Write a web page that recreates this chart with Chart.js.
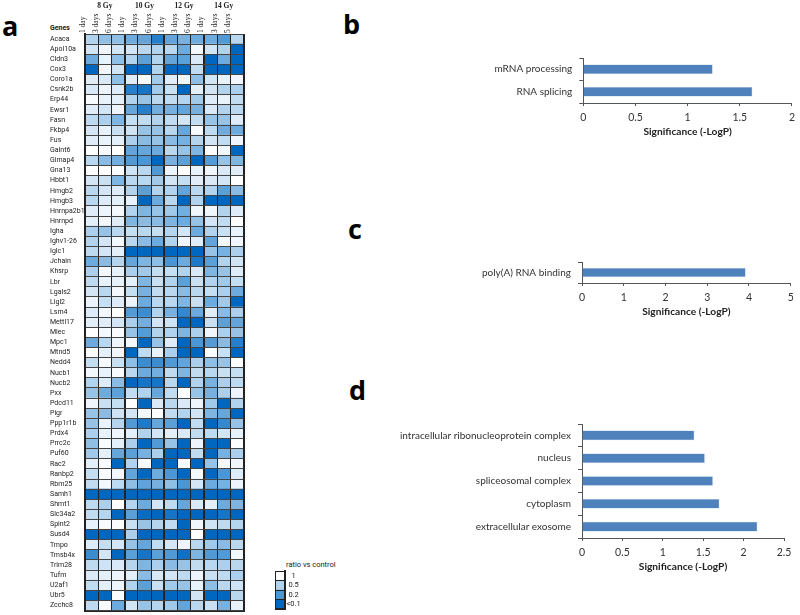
<!DOCTYPE html>
<html>
<head>
<meta charset="utf-8">
<title>Heatmap and GO terms</title>
<script src="https://cdn.jsdelivr.net/npm/chart.js@4"></script>
<style>
  html, body { margin: 0; padding: 0; background: #fff; }
  body { width: 800px; height: 615px; position: relative; overflow: hidden; font-family: Lato, sans-serif; color: #222; }
  canvas { position: absolute; }
  .panel { position: absolute; font: bold 27px "Open Sans", sans-serif; color: #000; line-height: 30px; }
  .note { position: absolute; line-height: 10px; white-space: nowrap; }
</style>
</head>
<body>
<div class="panel" style="left:2px;top:11px">a</div>
<div class="panel" style="left:343px;top:9px">b</div>
<div class="panel" style="left:348px;top:214px">c</div>
<div class="panel" style="left:349px;top:375px">d</div>
<div class="note" style="left:50px;top:23px;font:bold 7px/10px Roboto,sans-serif">Genes</div>
<div class="note" style="left:286px;top:560px;font:7.5px/10px Roboto,sans-serif">ratio vs control</div>

<canvas id="heatChart" width="260" height="615" style="left:0;top:0"></canvas>
<canvas id="legendChart" width="70" height="50" style="left:270px;top:565px"></canvas>
<canvas id="chartB" width="460" height="94" style="left:340px;top:45px"></canvas>
<canvas id="chartC" width="460" height="70" style="left:340px;top:249px"></canvas>
<canvas id="chartD" width="460" height="163" style="left:340px;top:411px"></canvas>

<script>
// HEATMAP DATA
const genes = ["Acaca","Apol10a","Cldn3","Cox3","Coro1a","Csnk2b","Erp44","Ewsr1","Fasn","Fkbp4","Fus","Galnt6","Gimap4","Gna13","Hbbt1","Hmgb2","Hmgb3","Hnrnpa2b1","Hnrnpd","Igha","Ighv1-26","Iglc1","Jchain","Khsrp","Lbr","Lgals2","Llgl2","Lsm4","Mettl17","Mlec","Mpc1","Mtnd5","Nedd4","Nucb1","Nucb2","Pxx","Pdcd11","Pigr","Ppp1r1b","Prdx4","Prrc2c","Puf60","Rac2","Ranbp2","Rbm25","Samh1","Shmt1","Slc34a2","Spint2","Susd4","Tmpo","Tmsb4x","Trim28","Tufm","U2af1","Ubr5","Zcchc8"];
const dayLabels = ["1 day","3 days","6 days","1 day","3 days","6 days","1 day","3 days","6 days","1 day","3 days","5 days"];
const doseLabels = ["8 Gy","10 Gy","12 Gy","14 Gy"];

// ratio vs control, one row per gene, 12 columns
const ratios = [
  [.5,.4,.4,.3,.27,.15,.27,.33,.3,.3,.22,.55],
  [.7,.9,.7,.7,.55,.5,.55,.3,.92,.7,.5,.1],
  [.3,.85,.4,.5,.25,.5,.27,.25,.75,.1,.3,.1],
  [.1,.9,.7,.1,.1,.5,.1,.1,.6,.1,.1,.1],
  [.8,.75,.4,.8,.95,.45,.8,.9,.4,.7,.85,.9],
  [.75,.88,.78,.15,.13,.45,.65,.1,.82,.7,.5,.48],
  [.95,.85,.82,.5,.42,.55,.6,.52,.45,.78,.85,.6],
  [.8,.7,.88,.28,.15,.32,.33,.27,.33,.75,.5,.55],
  [.58,.48,.35,.62,.6,.5,.6,.7,.6,.42,.42,.78],
  [.72,.85,.65,.68,.42,.42,.55,.28,.95,.58,.3,.3],
  [.8,.85,.82,.48,.38,.42,.38,.33,.52,.7,.6,.9],
  [1,.95,1,.27,.28,.3,.55,.42,.35,.97,.92,.1],
  [.55,.38,.32,.22,.2,.1,.33,.25,.1,.23,.42,.35],
  [1,1,.97,.68,.55,.22,.88,1,.85,.9,.75,.8],
  [.72,.65,.35,.55,.55,.45,.7,.62,.8,.75,.72,1],
  [.55,.72,.78,.5,.25,.5,.5,.27,.55,.5,.25,.38],
  [.55,.78,.82,.85,.1,.3,.55,.1,.5,.1,.1,.1],
  [.8,.88,.92,.5,.35,.42,.45,.32,.9,.9,.5,.78],
  [.82,.92,.8,.35,.38,.38,.35,.3,.42,.72,.6,1],
  [.48,.42,.55,.62,.55,.62,.52,.72,.3,.5,.65,.85],
  [.5,.72,.92,.55,.38,.3,.5,.9,.8,.27,.92,.9],
  [.58,.72,.82,.1,.1,.1,.1,.1,.1,.42,.33,.48],
  [.3,.38,.52,.28,.35,.4,.2,.3,.14,.25,.5,.7],
  [.48,.92,.85,.48,.45,.62,.62,.5,.75,.35,.42,.78],
  [.58,.85,.85,.82,.35,.65,.5,.25,.65,.5,.45,.62],
  [.72,.55,.92,.62,.33,.6,.55,.38,.55,.62,.48,.3],
  [.88,.62,.78,.88,.3,.55,.55,.35,.65,.3,.45,.1],
  [.78,.92,1,.22,.18,.5,.33,.17,.3,.8,.38,.48],
  [.82,.8,.72,.48,.32,.72,.68,.1,.1,.65,.25,.27],
  [1,.92,.96,.42,.23,.5,.5,.35,.48,.9,.48,.42],
  [.3,.55,.88,.92,.1,.42,.8,.1,.2,.23,.38,.15],
  [.97,.82,.9,.1,.6,.85,.48,.1,.1,.97,.65,.1],
  [.62,.95,.65,.4,.18,.18,.22,.27,.48,.4,.42,.98],
  [.92,.85,.95,.55,.3,.32,.58,.35,.6,.55,.65,.62],
  [.5,.78,.38,.1,.13,.13,.55,.1,.5,.33,.48,.58],
  [.42,.3,.25,.6,.5,.28,.6,1,.42,.33,.48,.88],
  [.9,.65,.62,1,.1,.75,.55,.75,.88,.45,.1,.5],
  [.42,.38,.68,.72,.92,1,.6,.5,.7,.35,.28,.1],
  [.42,.85,.52,.22,.14,.28,.25,.1,.6,.1,.17,.42],
  [.48,.85,.9,.82,.5,.72,.82,.75,.6,.58,.72,.85],
  [.4,.95,.82,.48,.1,.22,.42,.1,.88,.1,.1,.98],
  [.45,.82,.28,.25,.33,.48,.1,.1,.6,.1,.33,.48],
  [.82,.96,.1,.5,.96,.1,.1,.96,.1,.42,.92,.9],
  [.62,.96,.9,.27,.1,.3,.2,.1,.92,.1,.2,.78],
  [.6,.92,.58,.4,.26,.33,.4,.2,.72,.3,.33,.88],
  [.1,.1,.1,.1,.1,.1,.1,.1,.1,.1,.1,.1],
  [.58,.48,1,.52,.3,.72,.58,.28,.75,.82,.3,.35],
  [.6,.52,.1,.25,.11,.1,.13,.1,.1,.1,.13,.1],
  [.85,.95,.97,.65,.42,.52,.6,.1,.9,.68,.58,.52],
  [.1,.1,.1,.48,.1,.1,.1,.1,1,.1,.1,.1],
  [.78,.62,.72,.42,.28,.6,.72,.88,.55,.45,.38,.55],
  [.18,.72,.1,.25,.13,.25,.22,.12,.35,.22,.22,.92],
  [.58,.68,.75,.52,.35,.48,.38,.42,.6,.55,.48,.55],
  [.75,.82,.88,.82,.38,.75,.72,.58,.88,.65,.58,.48],
  [.6,.82,.88,.5,.25,.65,.45,.42,.85,.4,.55,.68],
  [.1,.1,.97,.1,.1,.1,.1,.1,.7,.1,.1,.55],
  [.58,.96,.3,.7,.42,.52,.45,.27,.55,.65,.33,.85]
];

const legendLabels = ["1","0.5","0.2","<0.1"];
const legendRatios = [1,.5,.2,.1];

// BAR PANELS DATA
const termsB = ["mRNA processing","RNA splicing"];
const valuesB = [1.24,1.62];
const termsC = ["poly(A) RNA binding"];
const valuesC = [3.92];
const termsD = ["intracellular ribonucleoprotein complex","nucleus","spliceosomal complex","cytoplasm","extracellular exosome"];
const valuesD = [1.39,1.52,1.62,1.70,2.17];

Chart.defaults.animation = false;
Chart.defaults.responsive = false;
Chart.defaults.devicePixelRatio = 1;
Chart.defaults.plugins.legend.display = false;
Chart.defaults.plugins.tooltip.enabled = false;

// colour stops taken from the legend: ratio -> rgb
const stops = [[1,[255,255,255]],[.5,[178,211,238]],[.2,[75,150,212]],[.1,[0,103,192]]];
function shade(r) {
  for (let i = 1; i < stops.length; i++) {
    if (r >= stops[i][0]) {
      const t = (stops[i-1][0] - r) / (stops[i-1][0] - stops[i][0]);
      const c = stops[i-1][1].map((v, k) => Math.round(v + (stops[i][1][k] - v) * t));
      return `rgb(${c[0]},${c[1]},${c[2]})`;
    }
  }
  return "rgb(0,103,192)";
}

// HEATMAP: 12 stacked datasets of unit length, coloured by ratio
new Chart(document.getElementById("heatChart"), {
  type: "bar",
  data: {
    labels: genes,
    datasets: dayLabels.map((d, col) => ({
      data: genes.map(() => 1),
      backgroundColor: ctx => shade(ratios[ctx.dataIndex][col]),
      barPercentage: 1,
      categoryPercentage: 1
    }))
  },
  options: {
    indexAxis: "y",
    layout: { padding: { left: 50, right: 16.5, top: 0, bottom: 4.5 } },
    scales: {
      x: {
        stacked: true, min: 0, max: 12,
        ticks: { display: false, stepSize: 1 },
        grid: {
          z: 1, drawTicks: false,
          color: "#222",
          lineWidth: ctx => ctx.tick && ctx.tick.value % 3 === 0 ? 2 : 1
        },
        border: { z: 1, color: "#222", width: 2 }
      },
      y: {
        stacked: true,
        afterFit: s => { s.width = 35; },
        ticks: { autoSkip: false, crossAlign: "far", padding: 0, color: "#222", font: { family: "Roboto", size: 7 } },
        grid: { z: 1, offset: true, drawTicks: false, color: "#444", lineWidth: 1 },
        border: { z: 1, color: "#222", width: 2 }
      },
      xDays: {
        type: "category", labels: dayLabels, position: "top", offset: true, weight: 0,
        afterFit: s => { s.height = 21; },
        grid: { display: false, drawTicks: false },
        border: { display: false },
        ticks: { autoSkip: false, minRotation: 90, maxRotation: 90, padding: 1, color: "#222", font: { family: "'Liberation Serif'", size: 7.5 } }
      },
      xDose: {
        type: "category", labels: doseLabels, position: "top", offset: true, weight: 1,
        afterFit: s => { s.height = 13; },
        grid: { display: false, drawTicks: false },
        border: { display: false },
        ticks: { autoSkip: false, maxRotation: 0, padding: 2, color: "#222", font: { family: "'Liberation Serif'", size: 7.5, weight: "bold" } }
      }
    }
  }
});

// HEATMAP LEGEND
new Chart(document.getElementById("legendChart"), {
  type: "bar",
  data: {
    labels: legendLabels,
    datasets: [{
      data: legendLabels.map(() => 1),
      backgroundColor: legendRatios.map(shade),
      barPercentage: 1,
      categoryPercentage: 1
    }]
  },
  options: {
    indexAxis: "y",
    layout: { padding: { left: 5.7, right: 0, top: 4, bottom: 4.3 } },
    scales: {
      x: {
        min: 0, max: 1,
        ticks: { display: false, stepSize: 1 },
        grid: { z: 1, drawTicks: false, color: "#222" },
        border: { z: 1, color: "#222", width: 2 }
      },
      y: {
        position: "right",
        afterFit: s => { s.width = 55; },
        ticks: { autoSkip: false, crossAlign: "center", padding: 1.5, color: "#222", font: { family: "Roboto", size: 7.5 } },
        grid: { z: 1, offset: true, drawTicks: false, color: "#222" },
        border: { z: 1, color: "#222", width: 2 }
      }
    }
  }
});

// BAR PANELS
function barPanel(id, terms, values, maxX, stepX, pad) {
  return new Chart(document.getElementById(id), {
    type: "bar",
    data: {
      labels: terms,
      datasets: [{
        data: values,
        backgroundColor: "#4f81bd",
        borderColor: "#9dbbdd",
        borderWidth: 0.5,
        barPercentage: 0.42,
        categoryPercentage: 1
      }]
    },
    options: {
      indexAxis: "y",
      layout: { padding: pad },
      scales: {
        x: {
          min: 0, max: maxX,
          afterFit: s => { s.height = 35; },
          ticks: { stepSize: stepX, maxRotation: 0, padding: 5, color: "#333", font: { family: "Lato", size: 10.5 }, callback: v => String(v) },
          grid: { drawOnChartArea: false, tickLength: 3, tickColor: "#555" },
          border: { color: "#555", width: 1 },
          title: { display: true, text: "Significance (-LogP)", color: "#222", padding: { top: 2, bottom: 0 }, font: { family: "Lato", size: 10.2, weight: "bold" } }
        },
        y: {
          afterFit: s => { s.width = 242; },
          ticks: { autoSkip: false, padding: 7, color: "#333", font: { family: "Lato", size: 10 } },
          grid: { drawOnChartArea: false, offset: true, tickLength: 4, tickColor: "#555" },
          border: { color: "#555", width: 1 }
        }
      }
    }
  });
}

barPanel("chartB", termsB, valuesB, 2, 0.5, { left: 1.3, right: 5, top: 12, bottom: 1 });
barPanel("chartC", termsC, valuesC, 5, 1, { left: 0, right: 9.3, top: 12, bottom: 1 });
barPanel("chartD", termsD, valuesD, 2.5, 0.5, { left: 0, right: 16, top: 12, bottom: 1 });
</script>
</body>
</html>
